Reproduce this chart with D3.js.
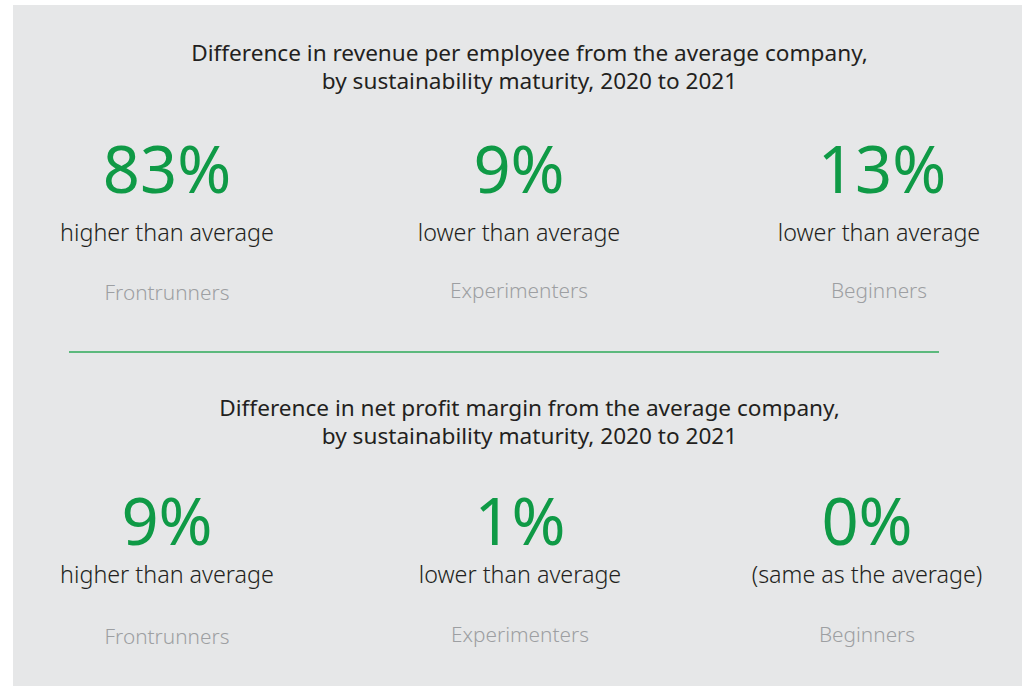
<!DOCTYPE html>
<html><head><meta charset="utf-8">
<script src="https://cdn.jsdelivr.net/npm/d3@7"></script>
<style>body{margin:0;background:#fff;}svg{display:block;}text{font-family:"Noto Sans",sans-serif;}</style>
</head><body><div id="chart"></div>
<script>
const categories = ["Frontrunners", "Experimenters", "Beginners"];
const revenueValues = [83, 9, 13];
const revenueLabels = ["higher than average", "lower than average", "lower than average"];
const profitValues = [9, 1, 0];
const profitLabels = ["higher than average", "lower than average", "(same as the average)"];
const titles = [
  ["Difference in revenue per employee from the average company,", "by sustainability maturity, 2020 to 2021"],
  ["Difference in net profit margin from the average company,", "by sustainability maturity, 2020 to 2021"]
];

const W = 1033, H = 686;
const svg = d3.select("#chart").append("svg").attr("width", W).attr("height", H);
svg.append("rect").attr("x", 13).attr("y", 5).attr("width", 1009).attr("height", 681).attr("fill", "#e6e7e8");

const xTop = d3.scaleOrdinal().domain(categories).range([167, 519, 879]);
const xBottom = d3.scaleOrdinal().domain(categories).range([167, 520, 867]);

const panels = [
  {title: titles[0], vals: revenueValues, labels: revenueLabels, y0: 0, xs: xTop, numDx: [0, 0, 3], catY: [300, 298, 298]},
  {title: titles[1], vals: profitValues, labels: profitLabels, y0: 351, xs: xBottom, numDx: [0, 0, 0], catY: [293, 291, 291]}
];

function xsAt(p, i) { return p.xs(categories[i]); }

panels.forEach((p, pi) => {
  const g = svg.append("g").attr("transform", `translate(0,${p.y0})`);
  const tY = pi === 0 ? 61 : 65;
  g.selectAll(".title").data(p.title).join("text")
    .attr("x", 529.5).attr("y", (d, i) => tY + i * 27.5)
    .attr("text-anchor", "middle").attr("font-size", 22.6).attr("fill", "#231f20").text(d => d);
  const numY = pi === 0 ? 193 : 194;
  g.selectAll(".num").data(p.vals).join("text")
    .attr("x", (d, i) => xsAt(p, i) + p.numDx[i])
    .attr("y", numY).attr("text-anchor", "middle")
    .attr("font-size", 65).attr("fill", "#0f9a46").text(d => d + "%");
  g.selectAll(".lab").data(p.labels).join("text")
    .attr("x", (d, i) => xsAt(p, i)).attr("y", pi === 0 ? 241 : 232)
    .attr("text-anchor", "middle").attr("font-size", 23.3).attr("fill", "#231f20").attr("font-weight", 300).text(d => d);
  g.selectAll(".cat").data(categories).join("text")
    .attr("x", d => p.xs(d)).attr("y", (d, i) => p.catY[i])
    .attr("text-anchor", "middle").attr("font-size", 20.8).attr("font-weight", 300).attr("fill", "#9d9fa2").text(d => d);
});

svg.append("line").attr("x1", 69).attr("x2", 939).attr("y1", 352).attr("y2", 352)
  .attr("stroke", "#2eaa5a").attr("stroke-width", 1.5);
</script></body></html>
